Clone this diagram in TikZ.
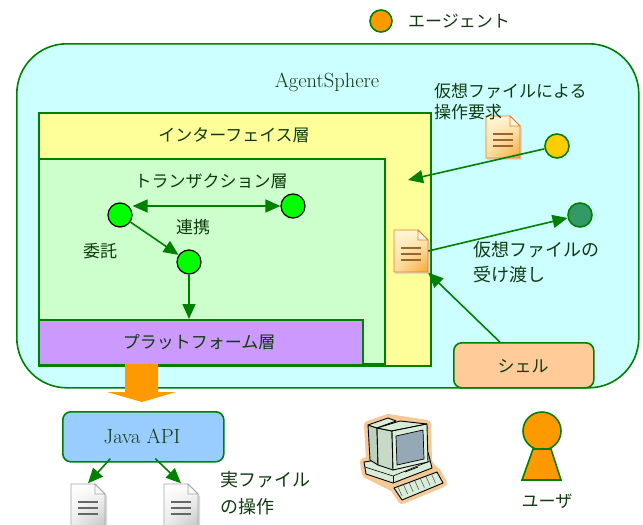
\documentclass[tikz,border=0pt]{standalone}
\usepackage{fontspec}
\newfontfamily\jp{Noto Sans CJK JP}
\usetikzlibrary{arrows.meta,calc,shadings}
\definecolor{lineg}{HTML}{008000}
\definecolor{txt}{HTML}{103A10}
\definecolor{spherefill}{HTML}{CCFFFF}
\definecolor{ifacefill}{HTML}{FFFF99}
\definecolor{transfill}{HTML}{CCFFCC}
\definecolor{platfill}{HTML}{CC99FF}
\definecolor{javafill}{HTML}{99CCFF}
\definecolor{shellfill}{HTML}{FFCC99}
\definecolor{agentorange}{HTML}{FF9900}
\definecolor{agentgreen}{HTML}{00FF00}
\definecolor{reqyellow}{HTML}{FFCC00}
\definecolor{darkagent}{HTML}{339966}
\definecolor{pcglow}{HTML}{F5C896}
\definecolor{pcbody}{HTML}{D8ECD8}
\definecolor{pcscreen}{HTML}{94A8B6}
\definecolor{cream}{HTML}{FFF6D8}
\definecolor{filegold}{HTML}{F5A830}
\tikzset{
  box/.style={draw=lineg, line width=1.6pt, anchor=north west, inner sep=0pt},
  jlabel/.style={font=\jp\fontsize{17}{21}\selectfont, text=txt, inner sep=0pt},
  llabel/.style={font=\fontsize{20.5}{24}\selectfont, text=txt, inner sep=0pt},
  agent/.style={circle, draw=black, line width=1.2pt, fill=agentgreen, minimum size=24pt, inner sep=0pt},
  flow/.style={draw=lineg, line width=1.6pt, -{Triangle[length=15pt,width=13pt]}},
  flowboth/.style={draw=lineg, line width=1.6pt, {Triangle[length=15pt,width=13pt]}-{Triangle[length=15pt,width=13pt]}},
  docbox/.style={minimum width=34pt, minimum height=43pt, inner sep=0pt},
  pics/fileicon/.style n args={4}{code={
    % shadow, sheet with folded corner, text lines
    \fill[black!15] (-16,-19) -- (9,-19) -- (19,-9) -- (19,23) -- (-16,23) -- cycle;
    \shade[upper left=#1, upper right=#1, lower left=#1!70!#2, lower right=#2]
      (-17,-21) -- (7,-21) -- (17,-11) -- (17,21) -- (-17,21) -- cycle;
    \draw[#3, line width=0.8pt]
      (-17,-21) -- (7,-21) -- (17,-11) -- (17,21) -- (-17,21) -- cycle;
    \filldraw[fill=white!92!#2, draw=#3, line width=0.8pt] (7,-21) -- (7,-11) -- (17,-11) -- cycle;
    \foreach \yy in {-3,3,9} \draw[#4, line width=1.3pt] (-10,\yy) -- (10,\yy);
  }}
}
\begin{document}
\begin{tikzpicture}[x=1pt,y=-1pt]
\useasboundingbox (0,0) rectangle (643,525);

% legend
\node[circle, draw=lineg, line width=1.6pt, fill=agentorange, minimum size=22pt, inner sep=0pt] (legend) at (381,21) {};
\node[jlabel, anchor=west] (legendtext) at (408,21) {エージェント};

% AgentSphere container
\node[box, fill=spherefill, rounded corners=50pt, minimum width=622pt, minimum height=344pt] (sphere) at (16,43) {};
\node[llabel] (spheretitle) at (327,82) {AgentSphere};

% layers
\node[box, fill=ifacefill, minimum width=392pt, minimum height=253pt] (iface) at (38,112) {};
\node[jlabel] (ifacetitle) at (234,135) {インターフェイス層};
\node[box, fill=transfill, minimum width=346pt, minimum height=205pt] (trans) at (38,158) {};
\node[jlabel] (transtitle) at (211,181) {トランザクション層};
\node[box, fill=platfill, minimum width=324pt, minimum height=45pt] (plat) at (38,319) {};
\node[jlabel] (plattitle) at (199,342) {プラットフォーム層};

% agents inside the transaction layer
\node[agent] (a1) at (120,215) {};
\node[agent] (a2) at (293,206) {};
\node[agent] (a3) at (189,262) {};
\node[jlabel] (coop) at (193,227) {連携};
\node[jlabel] (deleg) at (100,251) {委託};
\draw[flowboth] (a1.east |- a2) -- (a2);
\draw[flow] (a1) -- (a3);
\draw[flow] (a3) -- (a3 |- plat.north);

% virtual files and external agents
\node[docbox] (reqdoc) at (503,137) {};
\pic at (reqdoc) {fileicon={cream}{filegold}{orange!60!brown}{brown!80!black}};
\node[docbox] (vdoc) at (411,251) {};
\pic at (vdoc) {fileicon={cream}{filegold}{orange!60!brown}{brown!80!black}};
\node[circle, draw=lineg, line width=1.6pt, fill=reqyellow, minimum size=24pt, inner sep=0pt] (reqagent) at (557,146) {};
\node[circle, draw=lineg, line width=1.6pt, fill=darkagent, minimum size=24pt, inner sep=0pt] (recvagent) at (580,215) {};
\coordinate (reqend) at (408,180);
\draw[flow] (reqagent) -- (reqend);
\draw[flow] (vdoc.east) -- (recvagent);
\node[jlabel, anchor=west, align=left] (reqtext) at (434,102) {仮想ファイルによる\\操作要求};
\node[jlabel, font=\jp\fontsize{18}{25}\selectfont, anchor=west, align=left] (passtext) at (473,262) {仮想ファイルの\\受け渡し};

% shell
\node[box, fill=shellfill, rounded corners=8pt, minimum width=140pt, minimum height=45pt] (shell) at (453,342) {};
\node[jlabel] (shelltext) at (523,366) {シェル};
\draw[flow] (shell.north) ++(-24,0) coordinate (shellout) -- (vdoc.south east);

% platform to Java API
\fill[agentorange] (125,364) -- (158,364) -- (158,392) -- (176,392) -- (142,402) -- (107,392) -- (125,392) -- cycle;
\node[box, fill=javafill, rounded corners=8pt, minimum width=161pt, minimum height=50pt] (java) at (62,411) {};
\node[llabel] (javatext) at (142,436) {Java API};

% real files
\node[docbox] (rf1) at (88,505) {};
\pic at (rf1) {fileicon={white}{gray!45}{gray!70}{gray!80!black}};
\node[docbox] (rf2) at (181,505) {};
\pic at (rf2) {fileicon={white}{gray!45}{gray!70}{gray!80!black}};
\draw[flow] ([xshift=-33pt,yshift=4pt]java.south) -- (rf1.north);
\draw[flow] ([xshift=12pt,yshift=4pt]java.south) -- (rf2.north);
\node[jlabel, anchor=west, align=left, font=\jp\fontsize{18}{27}\selectfont] (realtext) at (220,493) {実ファイル\\の操作};

% computer
\begin{scope}[line join=round]
  % soft outline behind the parts
  \draw[line width=8pt, pcglow, fill=pcglow] (368,425) -- (388,418) -- (427,424) -- (428,462) -- (432,468) -- (437,472) -- (443,483) -- (402,500) -- (394,488) -- (366,474) -- (364,462) -- (370,460) -- cycle;
  % base unit
  \filldraw[fill=pcbody, draw=black, line width=0.9pt] (364,462) -- (428,452) -- (432,468) -- (393,483) -- (366,474) -- cycle;
  \draw[line width=0.6pt] (365,467) -- (393,476) -- (430,461);
  \draw[line width=0.6pt] (393,476) -- (393,483);
  \draw[line width=0.8pt] (405,472) -- (418,467);
  % back of the monitor
  \filldraw[fill=pcbody!88!black, draw=black, line width=0.9pt] (368,425) -- (377,428) -- (378,465) -- (370,460) -- cycle;
  \filldraw[fill=pcbody, draw=black, line width=0.9pt] (368,425) -- (388,418) -- (396,421) -- (377,428) -- cycle;
  % monitor side, top and front
  \filldraw[fill=pcbody!92!black, draw=black, line width=0.9pt] (377,428) -- (392,431) -- (393,470) -- (378,465) -- cycle;
  \filldraw[fill=pcbody, draw=black, line width=0.9pt] (377,428) -- (400,421) -- (427,424) -- (392,431) -- cycle;
  \filldraw[fill=pcbody, draw=black, line width=0.9pt] (392,431) -- (427,424) -- (428,462) -- (393,470) -- cycle;
  \filldraw[fill=pcscreen, draw=black, line width=0.7pt] (396,436) -- (423,430) -- (424,459) -- (397,465) -- cycle;
  % keyboard
  \filldraw[fill=pcbody, draw=black, line width=0.9pt] (394,488) -- (437,472) -- (443,483) -- (402,500) -- cycle;
  \foreach \i in {0,...,6} \draw[line width=0.5pt, black!70] ($(398,487)+(\i*5.6,-2.1*\i)$) -- ++(4,9);
\end{scope}
\node[inner sep=0pt, minimum size=1pt] (pc) at (404,460) {};

% user
\node[circle, draw=lineg, line width=1.6pt, fill=agentorange, minimum size=38pt, inner sep=0pt] (userhead) at (542,431) {};
\filldraw[fill=agentorange, draw=lineg, line width=1.6pt] (533,449) -- (551,449) -- (561,480) -- (522,480) -- cycle;
\node[jlabel] (usertext) at (547,501) {ユーザ};
\end{tikzpicture}
\end{document}
